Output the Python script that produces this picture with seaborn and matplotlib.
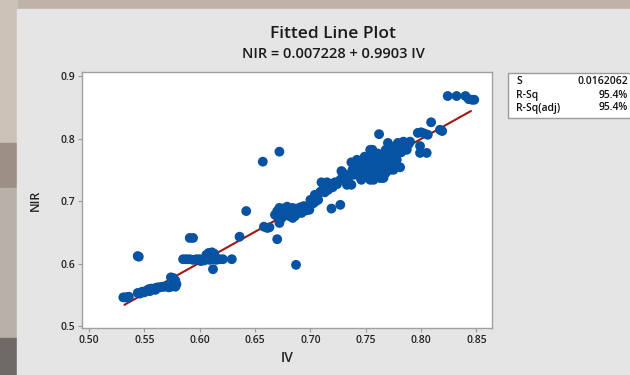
import numpy as np
import pandas as pd
import seaborn as sns
import matplotlib.pyplot as plt
from matplotlib.patches import Rectangle

# fitted line coefficients
intercept = 0.007228
slope = 0.9903
stat_names = ['S', 'R-Sq', 'R-Sq(adj)']
stat_values = ['0.0162062', '95.4%', '95.4%']

iv = [0.531, 0.533, 0.535, 0.536,
      0.544, 0.546, 0.548, 0.550, 0.552, 0.554, 0.555, 0.556, 0.558, 0.560,
      0.560, 0.562, 0.564, 0.566, 0.568, 0.570, 0.572, 0.574, 0.576, 0.577,
      0.578, 0.576, 0.574, 0.578, 0.579,
      0.544, 0.545, 0.591, 0.594,
      0.585, 0.588, 0.591, 0.594, 0.597, 0.600, 0.603, 0.606, 0.609, 0.612,
      0.615, 0.618, 0.621, 0.601, 0.604,
      0.606, 0.608, 0.611, 0.613, 0.610, 0.614, 0.612, 0.629, 0.636, 0.642,
      0.658, 0.661, 0.663, 0.670, 0.687, 0.657, 0.672,
      0.668, 0.672, 0.679, 0.684, 0.690, 0.697, 0.703, 0.707, 0.672, 0.674,
      0.684, 0.692, 0.699, 0.672, 0.676, 0.681, 0.687, 0.694, 0.686, 0.719,
      0.727,
      0.670, 0.675, 0.678, 0.682, 0.685, 0.688, 0.691, 0.694, 0.670, 0.677,
      0.681, 0.689, 0.696, 0.701, 0.705,
      0.700, 0.704, 0.709, 0.712, 0.710, 0.715, 0.717, 0.722, 0.727, 0.729,
      0.728, 0.733, 0.737, 0.737, 0.740, 0.743, 0.745, 0.746, 0.748, 0.751,
      0.752, 0.754, 0.756, 0.757, 0.758, 0.760, 0.761, 0.762, 0.763, 0.764,
      0.766, 0.768, 0.769, 0.770, 0.772, 0.772, 0.775, 0.776, 0.778, 0.779,
      0.781, 0.782, 0.784, 0.785, 0.787, 0.754, 0.749, 0.742, 0.757, 0.766,
      0.775, 0.729, 0.742, 0.764, 0.754, 0.735, 0.745, 0.750, 0.760, 0.770,
      0.739, 0.755, 0.765, 0.779, 0.789,
      0.735, 0.738, 0.741, 0.744, 0.747, 0.749, 0.752, 0.753, 0.755, 0.758,
      0.759, 0.761, 0.762, 0.765, 0.767, 0.768, 0.770, 0.771, 0.773, 0.774,
      0.777, 0.778, 0.780, 0.783, 0.786, 0.788, 0.790, 0.720, 0.724, 0.731,
      0.716, 0.713, 0.706,
      0.797, 0.800, 0.803, 0.806, 0.799, 0.799, 0.805, 0.809, 0.817, 0.819,
      0.824, 0.832, 0.840, 0.843, 0.846, 0.848]
nir = [0.546, 0.546, 0.546, 0.547,
       0.553, 0.552, 0.555, 0.554, 0.557, 0.559, 0.556, 0.560, 0.559, 0.561,
       0.558, 0.562, 0.562, 0.563, 0.563, 0.564, 0.562, 0.563, 0.565, 0.569,
       0.573, 0.577, 0.578, 0.563, 0.567,
       0.612, 0.611, 0.641, 0.641,
       0.607, 0.607, 0.607, 0.606, 0.607, 0.607, 0.606, 0.607, 0.606, 0.607,
       0.606, 0.607, 0.607, 0.604, 0.605,
       0.614, 0.617, 0.618, 0.616, 0.612, 0.611, 0.591, 0.607, 0.643, 0.684,
       0.659, 0.657, 0.658, 0.639, 0.598, 0.763, 0.779,
       0.678, 0.689, 0.691, 0.689, 0.686, 0.690, 0.697, 0.702, 0.665, 0.673,
       0.673, 0.681, 0.686, 0.680, 0.684, 0.680, 0.684, 0.688, 0.676, 0.688,
       0.694,
       0.684, 0.688, 0.684, 0.687, 0.683, 0.688, 0.690, 0.692, 0.676, 0.678,
       0.676, 0.681, 0.685, 0.695, 0.700,
       0.702, 0.710, 0.715, 0.721, 0.730, 0.730, 0.726, 0.730, 0.734, 0.738,
       0.748, 0.726, 0.726, 0.762, 0.745, 0.753, 0.738, 0.734, 0.761, 0.766,
       0.746, 0.754, 0.782, 0.771, 0.742, 0.760, 0.776, 0.807, 0.737, 0.752,
       0.768, 0.782, 0.760, 0.793, 0.771, 0.750, 0.776, 0.787, 0.766, 0.793,
       0.754, 0.778, 0.795, 0.787, 0.782, 0.782, 0.771, 0.766, 0.734, 0.737,
       0.750, 0.746, 0.763, 0.737, 0.734, 0.740, 0.748, 0.758, 0.768, 0.780,
       0.742, 0.762, 0.772, 0.780, 0.792,
       0.742, 0.750, 0.757, 0.746, 0.752, 0.758, 0.762, 0.740, 0.770, 0.754,
       0.765, 0.747, 0.772, 0.758, 0.777, 0.745, 0.764, 0.782, 0.758, 0.770,
       0.779, 0.756, 0.785, 0.788, 0.792, 0.790, 0.795, 0.722, 0.727, 0.735,
       0.718, 0.714, 0.708,
       0.809, 0.810, 0.808, 0.806, 0.788, 0.777, 0.777, 0.826, 0.814, 0.812,
       0.868, 0.868, 0.868, 0.863, 0.862, 0.862]

df = pd.DataFrame({'IV': iv, 'NIR': nir})
fit_x = np.array([0.532, 0.845])
fit = pd.DataFrame({'IV': fit_x, 'NIR': intercept + slope * fit_x})

sns.set_style("white")
plt.rcParams['font.family'] = ['Open Sans', 'DejaVu Sans']

fig = plt.figure(figsize=(6.3, 3.75), dpi=100)
fig.patch.set_facecolor('#bfb3a7')
# photo-like strip on the left, grey panel behind the chart
bg = [((0, 0.62), 17 / 630, 0.38, '#cbc1b7'),
      ((0, 0.5), 17 / 630, 0.12, '#9c8f83'),
      ((0, 0.1), 17 / 630, 0.4, '#b9b1a9'),
      ((0, 0), 17 / 630, 0.1, '#6f6a66'),
      ((17 / 630, 0), 1, 366 / 375, '#e5e5e5')]
for xy, w, h, c in bg:
    fig.patches.append(Rectangle(xy, w, h, transform=fig.transFigure, color=c, zorder=-10))

ax = fig.add_axes([82 / 630, 47 / 375, 410 / 630, 256 / 375])
ax.set_zorder(5)
ax.set_facecolor('white')

sns.lineplot(data=fit, x='IV', y='NIR', color='#a01818', linewidth=1.5, ax=ax, zorder=2)
sns.scatterplot(data=df, x='IV', y='NIR', color='#0652a3', s=50, edgecolor='none', ax=ax, zorder=3)

ax.set_xlim(0.4937, 0.864)
ax.set_ylim(0.497, 0.9064)
ax.set_xticks([0.50, 0.55, 0.60, 0.65, 0.70, 0.75, 0.80, 0.85])
ax.set_xticklabels(['0.50', '0.55', '0.60', '0.65', '0.70', '0.75', '0.80', '0.85'])
ax.set_yticks([0.5, 0.6, 0.7, 0.8, 0.9])
ax.set_yticklabels(['0.5', '0.6', '0.7', '0.8', '0.9'])
ax.tick_params(axis='both', direction='out', length=3, width=0.8, color='#9a9a9a',
               labelsize=7.5, labelcolor='#222222', pad=2, bottom=True, left=True)
for lab in ax.get_xticklabels() + ax.get_yticklabels():
    lab.set_fontweight('semibold')
for s in ax.spines.values():
    s.set_color('#a0a0a0')
    s.set_linewidth(1.0)

ax.set_xlabel('IV', fontsize=10, color='#222222', labelpad=4, fontweight='semibold')
ax.set_ylabel('NIR', fontsize=9, color='#222222', labelpad=13, fontweight='semibold')

fig.text(333 / 630, 1 - 34 / 375, 'Fitted Line Plot', ha='center', va='center',
         fontsize=12.5, color='#1a1a1a', fontweight='semibold')
fig.text(333 / 630, 1 - 54 / 375, 'NIR = 0.007228 + 0.9903 IV', ha='center', va='center',
         fontsize=10.5, color='#1a1a1a', fontweight='semibold')

# summary box
fig.patches.append(Rectangle((508 / 630, 1 - 118 / 375), 130 / 630, 45 / 375, transform=fig.transFigure,
                             facecolor='white', edgecolor='#9a9a9a', linewidth=1.0, zorder=1))
for i, (name, val) in enumerate(zip(stat_names, stat_values)):
    y = 1 - (82 + 13 * i) / 375
    fig.text(516 / 630, y, name, ha='left', va='center', fontsize=7.5, color='#111111', fontweight='semibold')
    fig.text(628 / 630, y, val, ha='right', va='center', fontsize=7.5, color='#111111', fontweight='semibold')

fig.savefig('out.png', dpi=100, facecolor=fig.get_facecolor())
